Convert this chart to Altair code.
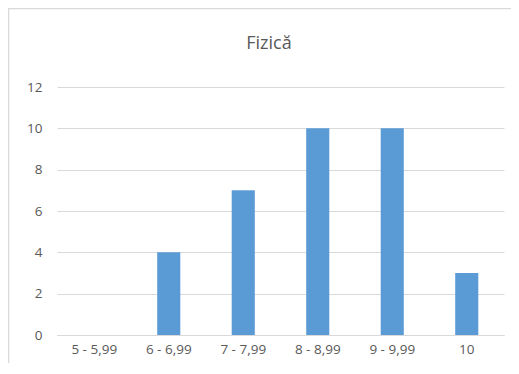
import altair as alt
import pandas as pd

categories = ["5 - 5,99", "6 - 6,99", "7 - 7,99", "8 - 8,99", "9 - 9,99", "10"]
values = [0, 4, 7, 10, 10, 3]
y_ticks = [0, 2, 4, 6, 8, 10, 12]
chart_title = "Fizică"

df = pd.DataFrame({"cat": categories, "val": values})

FONT = "Open Sans"
GRAY = "#595959"
LINE = "#D9D9D9"

bars = alt.Chart(df).mark_bar(color="#5B9BD5").encode(
    x=alt.X("cat:N", sort=categories,
            scale=alt.Scale(paddingInner=0.69, paddingOuter=0.345),
            axis=alt.Axis(title=None, labelAngle=0, ticks=False, domain=True,
                          domainColor=LINE, domainWidth=1, labelPadding=7,
                          labelFont=FONT, labelFontSize=13.5, labelColor=GRAY)),
    y=alt.Y("val:Q", scale=alt.Scale(domain=[0, 12]),
            axis=alt.Axis(title=None, values=y_ticks, ticks=False, domain=False,
                          gridColor=LINE, gridWidth=1, labelPadding=15,
                          labelFont=FONT, labelFontSize=13.5, labelColor=GRAY)),
)

frame = alt.Chart(pd.DataFrame({"a": [0]})).mark_rect(
    fillOpacity=0, stroke=LINE, strokeWidth=1.5
).encode(
    x=alt.value(-48.5), x2=alt.value(470),
    y=alt.value(-78.5), y2=alt.value(320),
)

title = alt.Chart(pd.DataFrame({"t": [chart_title]})).mark_text(
    font=FONT, fontSize=18, color=GRAY, align="center", baseline="alphabetic"
).encode(
    text="t:N", x=alt.value(212), y=alt.value(-38),
)

chart = alt.layer(bars, frame, title).properties(
    width=447, height=248,
    autosize=alt.AutoSizeParams(type="none"),
    padding={"left": 49, "top": 79, "right": 7, "bottom": 28},
).configure_view(stroke=None)

chart.save("out.html", embed_options={"renderer": "svg", "actions": False})
